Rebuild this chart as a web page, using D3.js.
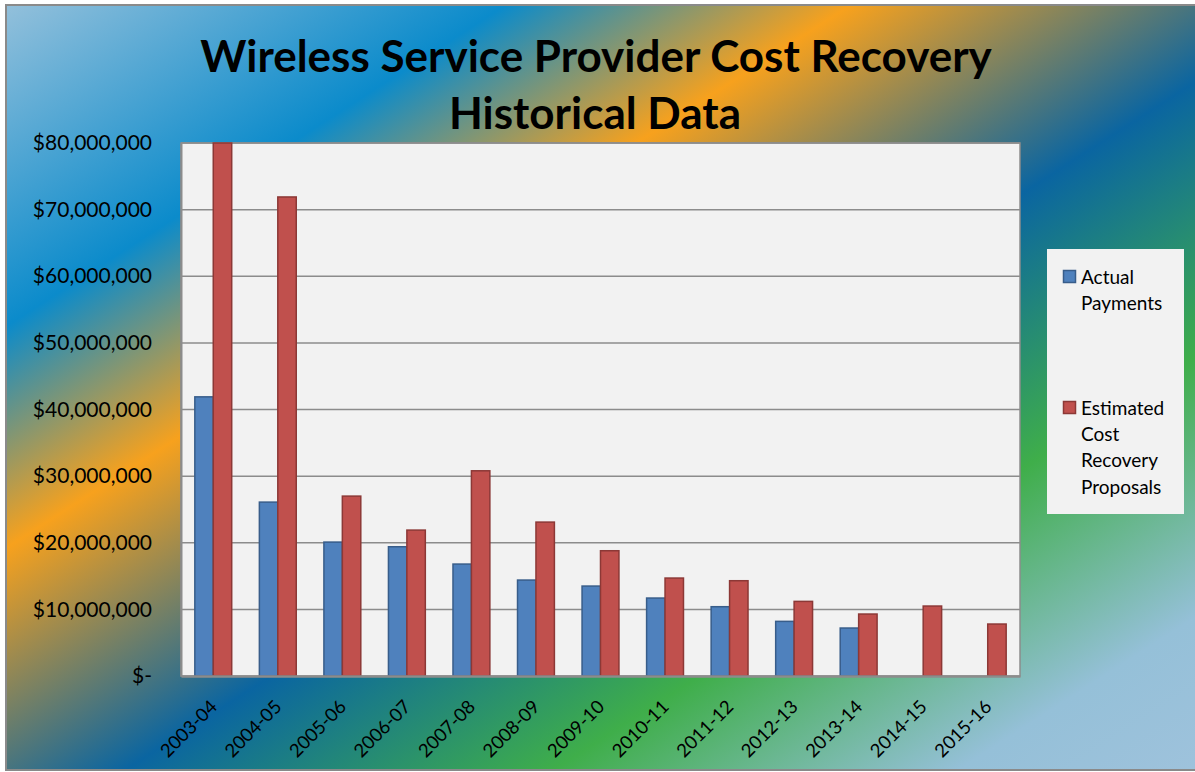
<!DOCTYPE html>
<html>
<head>
<meta charset="utf-8">
<script src="https://cdn.jsdelivr.net/npm/d3@7"></script>
<style>
    body { margin: 0; background: #ffffff; }
    svg { display: block; font-family: Lato, "DejaVu Sans", sans-serif; }
</style>
</head>
<body>
<svg></svg>
<script>

const years = [
    "2003-04", "2004-05", "2005-06", "2006-07", "2007-08", "2008-09", "2009-10",
    "2010-11", "2011-12", "2012-13", "2013-14", "2014-15", "2015-16"
]

const actualPayments = [
    41900000, 26100000, 20100000, 19400000, 16800000, 14400000, 13500000,
    11700000, 10400000, 8200000, 7200000, null, null
]

const estimatedProposals = [
    80000000, 71900000, 27000000, 21900000, 30800000, 23100000, 18800000,
    14700000, 14300000, 11200000, 9300000, 10500000, 7800000
]

const yTicks = [0, 10000000, 20000000, 30000000, 40000000, 50000000, 60000000, 70000000, 80000000]

const seriesNames = ["Actual Payments", "Estimated Cost Recovery Proposals"]
const legendLines = [["Actual", "Payments"], ["Estimated", "Cost", "Recovery", "Proposals"]]

const fills = ["#4f81bd", "#c0504d"]
const strokes = ["#385d8a", "#8c3836"]

const width = 1195
const height = 772

const svg = d3.select("svg")
    .attr("width", width)
    .attr("height", height)

const defs = svg.append("defs")

const grad = defs.append("linearGradient")
    .attr("id", "bg")
    .attr("x1", 0).attr("y1", 0)
    .attr("x2", 1).attr("y2", 1)

const stops = [
    [0, "#93c0db"],
    [0.21, "#0b8bcb"],
    [0.355, "#f7a11d"],
    [0.55, "#0a65a1"],
    [0.73, "#3fae4a"],
    [0.9, "#95c0d8"],
    [1, "#9ec2dc"]
]

grad.selectAll("stop")
    .data(stops)
    .enter()
    .append("stop")
    .attr("offset", d => d[0])
    .attr("stop-color", d => d[1])

svg.append("rect")
    .attr("x", 6)
    .attr("y", 5)
    .attr("width", 1190)
    .attr("height", 765)
    .attr("fill", "url(#bg)")
    .attr("stroke", "#8a8a8a")
    .attr("stroke-width", 2)

// title
const title = svg.append("text")
    .attr("text-anchor", "middle")
    .style("font-size", "44px")
    .style("font-weight", "bold")
    .attr("fill", "#000")

title.append("tspan").attr("x", 596).attr("y", 72).text("Wireless Service Provider Cost Recovery")
title.append("tspan").attr("x", 595).attr("y", 129).text("Historical Data")

const plot = { left: 181, right: 1020, top: 143, bottom: 676 }

const x0 = d3.scaleBand()
    .domain(years)
    .range([plot.left, plot.right])
    .padding(0)

const x1 = d3.scaleBand()
    .domain([0, 1])
    .range([0, x0.bandwidth()])
    .paddingInner(0)
    .paddingOuter(0.75)

const y = d3.scaleLinear()
    .domain([0, 80000000])
    .range([plot.bottom, plot.top])

svg.append("rect")
    .attr("x", plot.left)
    .attr("y", plot.top)
    .attr("width", plot.right - plot.left)
    .attr("height", plot.bottom - plot.top)
    .attr("fill", "#f2f2f2")
    .attr("stroke", "#8c8c8c")
    .attr("stroke-width", 1.5)

svg.append("g")
    .selectAll("line")
    .data(yTicks.slice(1))
    .enter()
    .append("line")
    .attr("x1", plot.left)
    .attr("x2", plot.right)
    .attr("y1", d => y(d))
    .attr("y2", d => y(d))
    .attr("stroke", "#8c8c8c")
    .attr("stroke-width", 1.5)

const yAxis = d3.axisLeft(y)
    .tickValues(yTicks)
    .tickSize(0)
    .tickPadding(29)
    .tickFormat(d => d === 0 ? "$-" : d3.format("$,")(d))

const yAxisG = svg.append("g")
    .attr("transform", `translate(${plot.left},0)`)
    .call(yAxis)

yAxisG.select(".domain").attr("stroke", "#8c8c8c").attr("stroke-width", 2)
yAxisG.selectAll("text")
    .style("font-size", "21px")
    .style("font-family", "Lato, sans-serif")
    .attr("fill", "#000")

// bars
const seriesData = [actualPayments, estimatedProposals]

seriesData.forEach((values, s) => {
    svg.append("g")
        .selectAll("rect")
        .data(values.map((v, i) => ({ year: years[i], value: v })).filter(d => d.value != null))
        .enter()
        .append("rect")
        .attr("x", d => x0(d.year) + x1(s))
        .attr("y", d => y(d.value))
        .attr("width", x1.bandwidth())
        .attr("height", d => plot.bottom - y(d.value))
        .attr("fill", fills[s])
        .attr("stroke", strokes[s])
        .attr("stroke-width", 1.5)
})

const xAxis = d3.axisBottom(x0)
    .tickSize(0)
    .tickPadding(0)

const xAxisG = svg.append("g")
    .attr("transform", `translate(0,${plot.bottom})`)
    .call(xAxis)

xAxisG.select(".domain").attr("stroke", "#8c8c8c").attr("stroke-width", 2.5)
xAxisG.selectAll("text")
    .style("font-size", "18.5px")
    .style("font-family", "Lato, sans-serif")
    .attr("fill", "#000")
    .attr("text-anchor", "end")
    .attr("dy", null)
    .attr("y", 0)
    .attr("transform", "translate(5,32) rotate(-45)")

// legend
const legend = svg.append("g")

legend.append("rect")
    .attr("x", 1047)
    .attr("y", 249)
    .attr("width", 137)
    .attr("height", 265)
    .attr("fill", "#f2f2f2")

const legendTop = [277, 408]

seriesNames.forEach((name, s) => {
    legend.append("rect")
        .attr("x", 1063.5)
        .attr("y", legendTop[s] - 6.5)
        .attr("width", 12)
        .attr("height", 12)
        .attr("fill", fills[s])
        .attr("stroke", strokes[s])
        .attr("stroke-width", 1.5)

    legend.append("g")
        .selectAll("text")
        .data(legendLines[s])
        .enter()
        .append("text")
        .attr("x", 1081)
        .attr("y", (d, i) => legendTop[s] + i * 26.3)
        .attr("dy", "0.35em")
        .style("font-size", "19px")
        .attr("fill", "#000")
        .text(d => d)
})

</script>
</body>
</html>
